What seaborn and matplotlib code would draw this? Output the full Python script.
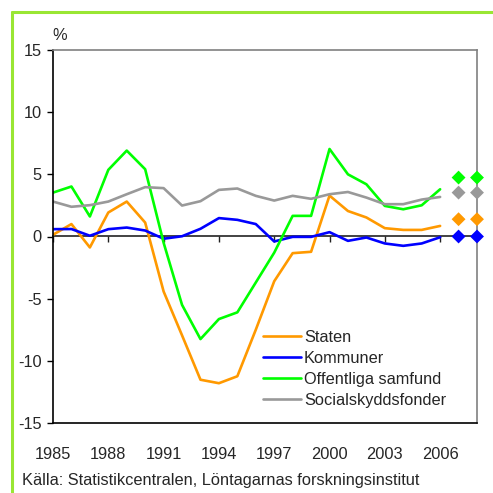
import matplotlib
matplotlib.use('Agg')
import matplotlib.pyplot as plt
import seaborn as sns
import pandas as pd
from matplotlib.lines import Line2D

# Data (%)
years = list(range(1985, 2007))
staten = [0.14, 1.0, -0.88, 1.93, 2.81, 1.12, -4.42, -7.95, -11.52, -11.8, -11.24,
          -7.5, -3.6, -1.34, -1.23, 3.29, 2.05, 1.53, 0.67, 0.53, 0.53, 0.85]
kommuner = [0.59, 0.6, 0.06, 0.59, 0.72, 0.48, -0.18, 0.02, 0.62, 1.48, 1.34,
            1.0, -0.4, -0.03, -0.03, 0.35, -0.35, -0.08, -0.56, -0.75, -0.56, -0.06]
offentliga = [3.53, 4.02, 1.61, 5.36, 6.91, 5.41, -0.5, -5.5, -8.25, -6.64, -6.1,
              -3.7, -1.3, 1.66, 1.66, 7.04, 5.0, 4.2, 2.46, 2.19, 2.51, 3.8]
social = [2.81, 2.39, 2.52, 2.81, 3.4, 3.97, 3.89, 2.49, 2.84, 3.75, 3.86,
          3.27, 2.89, 3.27, 3.03, 3.4, 3.58, 3.13, 2.6, 2.6, 2.97, 3.18]

# Forecast diamonds for 2007 and 2008
prog_years = [2007, 2008]
prog_staten = [1.39, 1.39]
prog_kommuner = [0.0, 0.0]
prog_offentliga = [4.74, 4.74]
prog_social = [3.53, 3.53]

series = ['Staten', 'Kommuner', 'Offentliga samfund', 'Socialskyddsfonder']
colors = ['#FF9900', '#0000FF', '#00FF00', '#999999']
xticks = list(range(1985, 2007, 3))
yticks = [15, 10, 5, 0, -5, -10, -15]

df = pd.DataFrame({'year': years * 4,
                   'value': staten + kommuner + offentliga + social,
                   'serie': sum([[s] * len(years) for s in series], [])})
df_prog = pd.DataFrame({'year': prog_years * 4,
                        'value': prog_staten + prog_kommuner + prog_offentliga + prog_social,
                        'serie': sum([[s] * len(prog_years) for s in series], [])})

sns.set_style('white')
plt.rcParams['font.family'] = ['Liberation Sans', 'DejaVu Sans']
plt.rcParams['axes.unicode_minus'] = False
fs = 11.8

fig = plt.figure(figsize=(4.93, 4.93), dpi=100)
ax = fig.add_axes([53 / 493, 1 - 423 / 493, 424 / 493, 373 / 493])

sns.lineplot(data=df, x='year', y='value', hue='serie', hue_order=series,
             palette=colors, linewidth=1.9, ax=ax)
sns.scatterplot(data=df_prog, x='year', y='value', hue='serie', hue_order=series,
                palette=colors, marker='D', s=50, linewidth=0, legend=False,
                clip_on=False, zorder=5, ax=ax)

ax.set_xlim(1985, 2008)
ax.set_ylim(-15, 15)
ax.set_xticks(xticks)
ax.set_yticks(yticks)
ax.set_xlabel('')
ax.set_ylabel('')
ax.tick_params(axis='x', length=0, pad=17, labelsize=fs)
ax.tick_params(axis='y', direction='out', length=4, width=1, color='black',
               left=True, pad=4, labelsize=fs)

for side in ['left', 'bottom']:
    ax.spines[side].set_color('black')
    ax.spines[side].set_linewidth(1.2)
for side in ['top', 'right']:
    ax.spines[side].set_color('#808080')
    ax.spines[side].set_linewidth(1.2)

# zero line with ticks
sec = ax.secondary_xaxis(0.5)
sec.set_xticks(xticks)
sec.tick_params(direction='in', length=4, width=1, color='#222222',
                labeltop=False, labelbottom=False)
for sp in sec.spines.values():
    sp.set_color('#222222')
    sp.set_linewidth(1.2)

ax.legend(handles=ax.get_legend().legend_handles, labels=series,
          loc='upper left', bbox_to_anchor=(0.495, 0.249),
          frameon=False, borderpad=0, borderaxespad=0, handlelength=2.3,
          handletextpad=0.2, labelspacing=0.36, fontsize=fs)

fig.text(60 / 493, 1 - 35 / 493, '%', ha='center', va='center', fontsize=fs)
fig.text(22 / 493, 1 - 480 / 493,
         'Källa: Statistikcentralen, Löntagarnas forskningsinstitut',
         ha='left', va='center', fontsize=fs)

# green frame (left and top edges)
fig.add_artist(Line2D([12 / 493, 12 / 493], [0, 1 - 12 / 493], transform=fig.transFigure,
                      color='#99E633', linewidth=2.2))
fig.add_artist(Line2D([12 / 493, 1], [1 - 12 / 493, 1 - 12 / 493], transform=fig.transFigure,
                      color='#99E633', linewidth=2.2))

fig.savefig('out.png', dpi=100)
